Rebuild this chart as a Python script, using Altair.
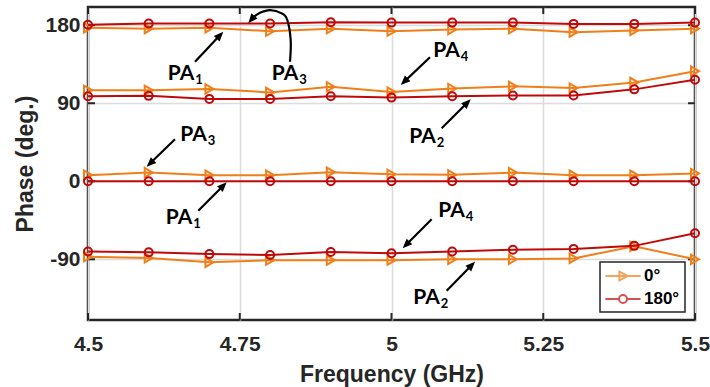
import math
import altair as alt
import pandas as pd

# ---------------- data ----------------
freq = [4.5, 4.6, 4.7, 4.8, 4.9, 5.0, 5.1, 5.2, 5.3, 5.4, 5.5]

# 0 degree state
pa1_0 = [177, 176, 177, 173, 176, 173, 175, 176, 172, 174, 176]
pa4_0 = [105, 105, 106.5, 102.5, 109, 103, 107, 109.5, 107.5, 114, 127]
pa3_0 = [7, 10, 7, 7, 10.5, 8, 7.5, 10, 7, 7, 9]
pa2_0 = [-87, -88.5, -93.5, -91, -91, -91, -90, -90, -89, -75, -90]

# 180 degree state
pa3_180 = [180.5, 182, 182, 182, 183.5, 183, 183, 183, 181.5, 181.5, 183]
pa2_180 = [98, 98.5, 95, 95, 98, 96.5, 98, 99, 99, 106, 117]
pa1_180 = [0, 0, 0, 0, 0, 0, 0, 0, 0, 0, 0]
pa4_180 = [-81, -82, -84, -85, -81.5, -83, -81, -79, -78, -74.5, -60]

states = ["0°", "180°"]
colors = ["#F07F1A", "#BF0A0A"]

x_ticks = [4.5, 4.75, 5.0, 5.25, 5.5]
y_ticks = [-90, 0, 90, 180]
x_dom = [4.5, 5.5]
y_dom = [-160, 201]

# annotation labels ("PA" + subscript)
lab_freq = [4.6532, 4.8245, 5.0906, 5.0511, 4.6738, 4.6499, 5.0988, 5.0577]
lab_phase = [124.3, 124.3, 150.2, 51.1, 53.4, -42.4, -34.3, -134.1]
lab_sub = ["1", "3", "4", "2", "3", "1", "4", "2"]

# straight arrows: tail -> tip
arr_tail_f = [4.6763, 5.0634, 5.0827, 4.6433, 4.6817, 5.0662, 5.0909]
arr_tail_p = [137.9, 143.0, 61.1, 48.4, -33.9, -43.9, -126.2]
arr_tip_f = [4.7229, 5.0152, 5.1305, 4.5967, 4.7285, 5.0184, 5.1376]
arr_tip_p = [172.5, 111.0, 94.5, 16.8, -1.2, -77.3, -92.8]

# curved arrow (PA3 at top)
curve_f = [4.8328, 4.8339, 4.8283, 4.8191, 4.7998, 4.7833, 4.7723, 4.7641]
curve_p = [137.9, 162.9, 186.0, 193.7, 197.5, 194.4, 189.1, 182.2]

# ---------------- layout ----------------
W, H = 607, 313
PXF = W / (x_dom[1] - x_dom[0])
PXD = H / (y_dom[1] - y_dom[0])
INK = "#262626"
AXFONT = "Liberation Sans"
ANFONT = "Lato"

series = [
    ("0°", "PA1", pa1_0), ("0°", "PA4", pa4_0), ("0°", "PA3", pa3_0), ("0°", "PA2", pa2_0),
    ("180°", "PA3", pa3_180), ("180°", "PA2", pa2_180), ("180°", "PA1", pa1_180), ("180°", "PA4", pa4_180),
]
rows = []
for st, pa, vals in series:
    for f, v in zip(freq, vals):
        rows.append({"freq": f, "phase": v, "state": st, "pa": pa})
df = pd.DataFrame(rows)

x_enc = alt.X(
    "freq:Q",
    scale=alt.Scale(domain=x_dom, nice=False, zero=False),
    axis=alt.Axis(values=x_ticks, title="Frequency (GHz)", labelFlush=False,
                  labelExpr="'' + datum.value",
                  labelPadding=13, titleY=43, titleBaseline="top"),
)
y_enc = alt.Y(
    "phase:Q",
    scale=alt.Scale(domain=y_dom, nice=False, zero=False),
    axis=alt.Axis(values=y_ticks, title="Phase (deg.)", labelFlush=False,
                  labelExpr="'' + datum.value", labelPadding=8,
                  titleX=-63, titleBaseline="middle"),
)


def arrow_geom(f0, p0, f1, p1, back):
    dx = (f1 - f0) * PXF
    dy = (p1 - p0) * PXD
    L = math.hypot(dx, dy)
    ang = math.degrees(math.atan2(dx, dy)) % 360
    ef = f1 - dx / L * back / PXF
    ep = p1 - dy / L * back / PXD
    return ef, ep, ang


shaft_rows, head_rows = [], []
for a, b, c, d in zip(arr_tail_f, arr_tail_p, arr_tip_f, arr_tip_p):
    ef, ep, ang = arrow_geom(a, b, c, d, 6)
    shaft_rows.append({"freq": a, "phase": b, "freq2": ef, "phase2": ep})
    head_rows.append({"freq": c, "phase": d, "ang": ang})

ef, ep, ang = arrow_geom(curve_f[-2], curve_p[-2], curve_f[-1], curve_p[-1], 5)
curve_rows = [{"freq": f, "phase": p, "i": i} for i, (f, p) in enumerate(zip(curve_f[:-1], curve_p[:-1]))]
curve_rows.append({"freq": ef, "phase": ep, "i": len(curve_f) - 1})
head_rows.append({"freq": curve_f[-1], "phase": curve_p[-1], "ang": ang})

shaft_df = pd.DataFrame(shaft_rows)
head_df = pd.DataFrame(head_rows)
curve_df = pd.DataFrame(curve_rows)
lab_df = pd.DataFrame({"freq": lab_freq, "phase": lab_phase, "sub": lab_sub, "pa": ["PA"] * len(lab_sub)})

layers = []

# inner tick marks (MATLAB style)
xt = pd.DataFrame({"freq": x_ticks})
yt = pd.DataFrame({"phase": y_ticks})
layers.append(alt.Chart(xt).mark_rule(color=INK, strokeWidth=2).encode(x=x_enc, y=alt.value(0), y2=alt.value(7)))
layers.append(alt.Chart(xt).mark_rule(color=INK, strokeWidth=2).encode(x=x_enc, y=alt.value(H), y2=alt.value(H - 7)))
layers.append(alt.Chart(yt).mark_rule(color=INK, strokeWidth=2).encode(y=y_enc, x=alt.value(0), x2=alt.value(7)))
layers.append(alt.Chart(yt).mark_rule(color=INK, strokeWidth=2).encode(y=y_enc, x=alt.value(W), x2=alt.value(W - 7)))

shapes = ["triangle-right", "circle"]
sizes = [85, 64]
for st, col, shp, sz in zip(states, colors, shapes, sizes):
    sub = df[df["state"] == st]
    layers.append(alt.Chart(sub).mark_line(color=col, strokeWidth=2).encode(x=x_enc, y=y_enc, detail="pa:N"))
    layers.append(alt.Chart(sub).mark_point(color=col, shape=shp, size=sz, filled=False, strokeWidth=2, opacity=1)
                  .encode(x=x_enc, y=y_enc))

# annotations
layers.append(alt.Chart(shaft_df).mark_rule(color="black", strokeWidth=2.2).encode(
    x=x_enc, y=y_enc, x2="freq2:Q", y2="phase2:Q"))
layers.append(alt.Chart(curve_df).mark_line(color="black", strokeWidth=2.2, interpolate="cardinal").encode(
    x=x_enc, y=y_enc, order="i:Q"))
layers.append(alt.Chart(head_df).mark_point(shape="M0,0L0.5,1.2L-0.5,1.2Z", filled=True, color="black",
                                            size=256, opacity=1, strokeWidth=0).encode(
    x=x_enc, y=y_enc, angle=alt.Angle("ang:Q", scale=None)))
layers.append(alt.Chart(lab_df).mark_text(font=ANFONT, fontWeight="bold", fontSize=21, color="black",
                                          align="center", baseline="middle").encode(
    x=x_enc, y=y_enc, text="pa:N"))
layers.append(alt.Chart(lab_df).mark_text(font=ANFONT, fontWeight="bold", fontSize=13, color="black",
                                          align="center", baseline="middle", dx=18, dy=6).encode(
    x=x_enc, y=y_enc, text="sub:N"))

# legend layer (no marks drawn, legend built from the scale domain)
leg_paths = [
    "M-2.2,0L2.2,0M-0.45,-0.55L0.6,0L-0.45,0.55Z",
    "M-2.2,0L-0.5,0M0.5,0L2.2,0M0.5,0A0.5,0.5 0 1,1 -0.5,0A0.5,0.5 0 1,1 0.5,0",
]
leg_df = pd.DataFrame({"state": states})
legend = alt.Legend(title=None, orient="none", legendX=512, legendY=255,
                    fillColor="white", strokeColor=INK, padding=5,
                    rowPadding=5, symbolSize=256, symbolStrokeWidth=2, symbolOffset=9,
                    labelOffset=12, labelFont=AXFONT, labelFontSize=17, labelFontWeight="bold",
                    labelColor="black")
layers.append(alt.Chart(leg_df).mark_point(filled=False, strokeWidth=2).encode(
    color=alt.Color("state:N", scale=alt.Scale(domain=states, range=colors), legend=legend),
    shape=alt.Shape("state:N", scale=alt.Scale(domain=states, range=leg_paths), legend=legend),
).transform_filter("false"))

chart = alt.layer(*layers).properties(
    width=W, height=H,
    padding={"left": 88, "top": 7, "right": 15, "bottom": 67},
    autosize=alt.AutoSizeParams(type="none"),
).configure_view(
    stroke=INK, strokeWidth=2.5,
).configure_axis(
    labelFont=AXFONT, labelFontSize=21, labelFontWeight="bold", labelColor=INK,
    titleFont=AXFONT, titleFontSize=23, titleFontWeight="bold", titleColor=INK,
    grid=True, gridColor="#DCDCDC", gridWidth=1.5, domain=False, ticks=False, tickSize=0,
).configure_legend(
    strokeWidth=1.5, cornerRadius=0,
)

chart.save("out.html", embed_options={"renderer": "svg", "actions": False})
